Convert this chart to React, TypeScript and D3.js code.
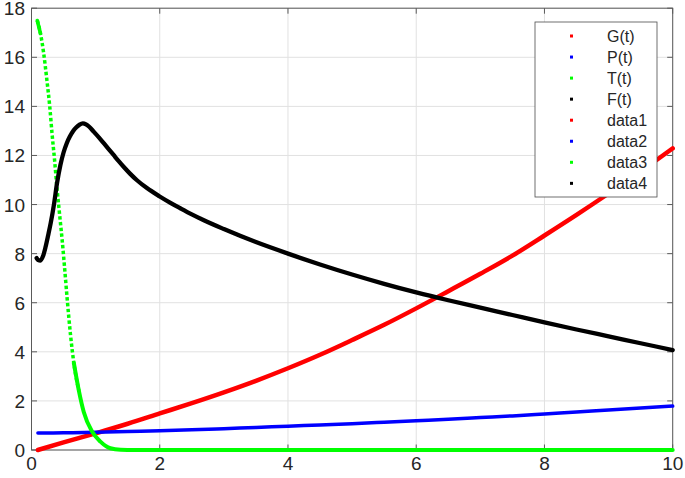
import React from "react";
import * as d3 from "d3";

// ---------- data ----------
const xTicks = [0, 2, 4, 6, 8, 10];
const yTicks = [0, 2, 4, 6, 8, 10, 12, 14, 16, 18];

const tGP = [0.1, 0.5, 1, 1.5, 2, 2.5, 3, 3.5, 4, 4.5, 5, 5.5, 6, 6.5, 7, 7.5, 8, 8.5, 9, 9.5, 10];
const G = [0, 0.31, 0.68, 1.07, 1.49, 1.91, 2.35, 2.82, 3.33, 3.88, 4.48, 5.1, 5.77, 6.47, 7.18, 7.92, 8.74, 9.58, 10.45, 11.35, 12.29];
const P = [0.69, 0.7, 0.72, 0.75, 0.78, 0.82, 0.87, 0.92, 0.97, 1.02, 1.07, 1.13, 1.19, 1.25, 1.32, 1.39, 1.47, 1.55, 1.63, 1.71, 1.79];

const tT = [0.09, 0.14, 0.19, 0.24, 0.285, 0.32, 0.36, 0.4, 0.44, 0.48, 0.52, 0.555, 0.61, 0.66, 0.74, 0.815, 0.945, 1.075, 1.23, 1.39, 1.6, 2, 4, 6, 8, 10];
const T = [17.5, 16.97, 16.16, 15.07, 13.98, 12.9, 11.81, 10.6, 9.55, 8.5, 7.3, 6.2, 4.65, 3.55, 2.4, 1.55, 0.75, 0.34, 0.07, 0.01, 0, 0, 0, 0, 0, 0];

const tF = [0.08, 0.1, 0.14, 0.18, 0.22, 0.26, 0.3, 0.35, 0.4, 0.45, 0.5, 0.55, 0.6, 0.65, 0.7, 0.75, 0.8, 0.85, 0.9, 0.97, 1.05, 1.13, 1.2, 1.28, 1.36, 1.44, 1.54, 1.645, 1.8, 2.0, 2.16, 2.32, 2.5, 2.68, 3, 3.5, 4, 4.5, 5, 5.5, 6, 6.5, 7, 7.5, 8, 8.5, 9, 9.5, 10];
const F = [7.82, 7.75, 7.72, 7.9, 8.28, 8.75, 9.25, 10.0, 10.9, 11.6, 12.12, 12.5, 12.78, 13.0, 13.15, 13.26, 13.31, 13.27, 13.17, 12.97, 12.74, 12.49, 12.27, 12.02, 11.77, 11.53, 11.25, 10.99, 10.67, 10.33, 10.08, 9.85, 9.6, 9.37, 9.0, 8.47, 8.0, 7.56, 7.15, 6.77, 6.42, 6.1, 5.8, 5.5, 5.2, 4.91, 4.63, 4.35, 4.07];

const legendLabels = ["G(t)", "P(t)", "T(t)", "F(t)", "data1", "data2", "data3", "data4"];
const legendColors = ["#ff0000", "#0000ff", "#00ff00", "#000000", "#ff0000", "#0000ff", "#00ff00", "#000000"];

// ---------- layout ----------
const W = 685;
const H = 478;
const L = 31.5;
const R = 672.7;
const TOP = 8.2;
const BOT = 450;
const FONT = "'Liberation Sans', Arial, Helvetica, sans-serif";

export default function App() {
  const x = d3.scaleLinear().domain([0, 10]).range([L, R]);
  const y = d3.scaleLinear().domain([0, 18]).range([BOT, TOP]);

  const line = d3
    .line<[number, number]>()
    .x((d) => x(d[0]))
    .y((d) => y(d[1]))
    .curve(d3.curveMonotoneX);

  const zip = (ts: number[], vs: number[]) => ts.map((t, i) => [t, vs[i]] as [number, number]);
  const gPts = zip(tGP, G);
  const pPts = zip(tGP, P);
  const tPts = zip(tT, T);
  const fPts = zip(tF, F);
  const tSteep = tPts.filter((d) => d[0] <= 0.74);
  const tFlat = tPts.filter((d) => d[0] >= 0.66);
  const tTop = tPts.filter((d) => d[0] <= 0.14);

  const tickLen = 5.5;
  const axisColor = "#5a5a5a";
  const gridColor = "#e1e1e1";
  const textColor = "#262626";

  return (
    <svg
      width={W}
      height={H}
      style={{ position: "absolute", left: 0, top: 0, background: "#fff" }}
      fontFamily={FONT}
    >
      <rect x={0} y={0} width={W} height={H} fill="#fff" />
      {/* grid */}
      {xTicks.map((t) => (
        <line key={"gx" + t} x1={x(t)} x2={x(t)} y1={TOP} y2={BOT} stroke={gridColor} strokeWidth={1} />
      ))}
      {yTicks.map((t) => (
        <line key={"gy" + t} x1={L} x2={R} y1={y(t)} y2={y(t)} stroke={gridColor} strokeWidth={1} />
      ))}
      {/* box */}
      <rect x={L} y={TOP} width={R - L} height={BOT - TOP} fill="none" stroke={axisColor} strokeWidth={1} />
      {/* ticks */}
      {xTicks.map((t) => (
        <g key={"tx" + t}>
          <line x1={x(t)} x2={x(t)} y1={BOT} y2={BOT - tickLen} stroke={axisColor} />
          <line x1={x(t)} x2={x(t)} y1={TOP} y2={TOP + tickLen} stroke={axisColor} />
        </g>
      ))}
      {yTicks.map((t) => (
        <g key={"ty" + t}>
          <line x1={L} x2={L + tickLen} y1={y(t)} y2={y(t)} stroke={axisColor} />
          <line x1={R} x2={R - tickLen} y1={y(t)} y2={y(t)} stroke={axisColor} />
        </g>
      ))}
      {/* tick labels */}
      {xTicks.map((t) => (
        <text key={"lx" + t} x={x(t)} y={470} textAnchor="middle" fontSize={19} fill={textColor}>
          {t}
        </text>
      ))}
      {yTicks.map((t) => (
        <text key={"ly" + t} x={25} y={y(t) + 7} textAnchor="end" fontSize={19} fill={textColor}>
          {t}
        </text>
      ))}
      {/* series */}
      <path d={line(gPts) || ""} fill="none" stroke="#ff0000" strokeWidth={4.5} strokeLinecap="round" strokeLinejoin="round" />
      <path d={line(pPts) || ""} fill="none" stroke="#0000ff" strokeWidth={3.5} strokeLinecap="round" strokeLinejoin="round" />
      <path d={line(tSteep) || ""} fill="none" stroke="#00ff00" strokeWidth={3.5} strokeDasharray="3.4 2.4" />
      <path d={line(tTop) || ""} fill="none" stroke="#00ff00" strokeWidth={3.6} strokeLinecap="round" />
      <path d={line(tFlat) || ""} fill="none" stroke="#00ff00" strokeWidth={4} strokeLinecap="round" strokeLinejoin="round" />
      <path d={line(fPts) || ""} fill="none" stroke="#000000" strokeWidth={4.3} strokeLinecap="round" strokeLinejoin="round" />
      {/* legend */}
      <rect x={535} y={22} width={122} height={175} fill="#fff" stroke="#4d4d4d" strokeWidth={0.8} />
      {legendLabels.map((lab, i) => {
        const cy = 36 + i * 21.05;
        return (
          <g key={"lg" + i}>
            <rect x={570} y={cy - 1.5} width={3} height={3} fill={legendColors[i]} />
            <text x={607} y={cy + 5.5} fontSize={16} fill={textColor}>
              {lab}
            </text>
          </g>
        );
      })}
    </svg>
  );
}
